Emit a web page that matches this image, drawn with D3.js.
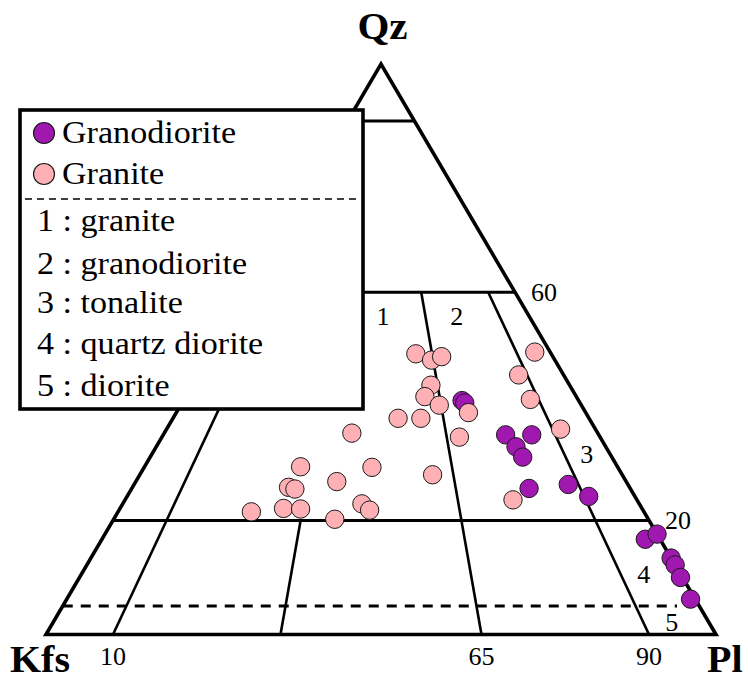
<!DOCTYPE html>
<html>
<head>
<meta charset="utf-8">
<script src="https://cdn.jsdelivr.net/npm/d3@7"></script>
<style>
  html, body { margin: 0; padding: 0; background: #fff; }
  svg { display: block; }
  text { font-family: "Liberation Serif", "Times New Roman", serif; fill: #000; }
</style>
</head>
<body>
<svg id="chart" width="748" height="682"></svg>
<script>
// Modal compositions (vol. %): Q = quartz, A = K-feldspar, P = plagioclase
const graniteQ = [49.2,48.1,48.7,43.7,41.7,40.2,37.9,37.9,38.9,34.6,35.3,29.4,29.3,28.0,26.8,25.8,25.5,22.1,22.0,21.5,22.9,21.8,20.2,49.5,45.5,41.2,36.0,23.6];
const graniteA = [20.2,18.4,16.6,20.7,22.6,21.2,28.5,25.1,17.5,21.0,36.7,47.3,36.7,28.3,43.2,50.9,50.1,53.5,51.0,58.6,41.4,40.8,46.8,2.3,6.7,7.1,5.2,18.5];
const graniteP = [30.6,33.5,34.7,35.6,35.7,38.6,33.6,37.0,43.6,44.4,28.0,23.3,34.0,43.7,30.0,23.3,24.4,24.4,27.0,19.9,35.7,37.4,33.0,48.2,47.8,51.7,58.8,57.9];

const granodioriteQ = [41.0,40.6,35.0,35.0,32.9,31.1,25.6,26.3,24.2,16.7,17.6,13.4,12.2,10.0,6.2];
const granodioriteA = [17.4,17.2,13.9,10.0,13.4,13.3,15.1,8.9,6.9,2.2,0.0,0.0,0.0,0.3,0.7];
const granodioriteP = [41.6,42.2,51.1,55.0,53.7,55.6,59.3,64.8,68.9,81.1,82.4,86.6,87.8,89.7,93.1];

// Series legend and field names
const seriesNames = ["Granodiorite", "Granite"];
const seriesColors = ["#a118b1", "#ffb0b5"];
const fieldNames = ["granite", "granodiorite", "tonalite", "quartz diorite", "diorite"];

// Boundary values: Q levels (%) and P/(A+P) ratios (%)
const qLevels = [90, 60, 20];
const qDashed = 5;
const ratioLines = [[10, 60], [35, 20], [65, 60], [90, 60]]; // [P/(A+P), top Q]
const baseTicks = [10, 65, 90];
const sideTicks = [60, 20];

const svg = d3.select("#chart");

// Cartesian unit coordinates of the triangle: Kfs (0,0), Pl (1,0), Qz (0.5,1)
const xs = d3.scaleLinear().domain([0, 1]).range([46, 716]);
const ys = d3.scaleLinear().domain([0, 1]).range([634.5, 64]);

function proj(q, a, p) {
  const s = q + a + p;
  const Q = q / s, P = p / s;
  return [xs(P + Q / 2), ys(Q)];
}
// point at quartz level q (%) and plagioclase ratio r (%)
function projQR(q, r) {
  const Q = q / 100, R = r / 100;
  return proj(Q, (1 - Q) * (1 - R), (1 - Q) * R);
}

const line = d3.line();
const g = svg.append("g");

// Field boundaries
qLevels.forEach(q => {
  g.append("path").attr("d", line([projQR(q, 0), projQR(q, 100)]))
    .attr("stroke", "#000").attr("stroke-width", 3).attr("fill", "none");
});
g.append("path").attr("d", line([projQR(qDashed, 0), projQR(qDashed, 96.5)]))
  .attr("stroke", "#000").attr("stroke-width", 2.8).attr("fill", "none")
  .attr("stroke-dasharray", "10,8");
ratioLines.forEach(([r, top]) => {
  g.append("path").attr("d", line([projQR(0, r), projQR(top, r)]))
    .attr("stroke", "#000").attr("stroke-width", 2.6).attr("fill", "none");
});

// Triangle outline
g.append("path")
  .attr("d", line([proj(0, 1, 0), proj(0, 0, 1), proj(1, 0, 0)]) + "Z")
  .attr("stroke", "#000").attr("stroke-width", 3.6).attr("fill", "none")
  .attr("stroke-linejoin", "miter");

// Field numbers, placed in unit coordinates
const fieldLabels = [["1", 0.503, 0.5425], ["2", 0.613, 0.5425], ["3", 0.807, 0.3006], ["4", 0.892, 0.0909], ["5", 0.934, 0.0066]];
g.selectAll("text.field").data(fieldLabels).join("text")
  .attr("class", "field")
  .attr("x", d => xs(d[1])).attr("y", d => ys(d[2]))
  .attr("text-anchor", "middle").attr("font-size", 26).text(d => d[0]);

// Ratio ticks along the base
g.selectAll("text.btick").data(baseTicks).join("text")
  .attr("class", "btick")
  .attr("x", d => projQR(0, d)[0]).attr("y", d => projQR(0, d)[1] + 30)
  .attr("text-anchor", "middle").attr("font-size", 26).text(d => d);

// Quartz ticks along the right edge
g.selectAll("text.stick").data(sideTicks).join("text")
  .attr("class", "stick")
  .attr("x", d => projQR(d, 100)[0] + 16).attr("y", d => projQR(d, 100)[1] + 9)
  .attr("font-size", 26).text(d => d);

// Data points
const series = [
  {name: seriesNames[0], color: seriesColors[0], Q: granodioriteQ, A: granodioriteA, P: granodioriteP},
  {name: seriesNames[1], color: seriesColors[1], Q: graniteQ, A: graniteA, P: graniteP}
];
series.forEach(s => {
  const pts = s.Q.map((q, i) => proj(q, s.A[i], s.P[i]));
  g.append("g").selectAll("circle").data(pts).join("circle")
    .attr("cx", d => d[0]).attr("cy", d => d[1]).attr("r", 9.2)
    .attr("fill", s.color).attr("stroke", "#1a1a1a").attr("stroke-width", 1);
});

// Text slightly widened horizontally
function wideText(parent, x, y, txt, size, bold, anchor, sx) {
  return parent.append("text")
    .attr("transform", `translate(${x},${y}) scale(${sx || 1.1},1)`)
    .attr("text-anchor", anchor || "start")
    .attr("font-size", size).attr("font-weight", bold ? "bold" : "normal")
    .text(txt);
}
// Apex titles
wideText(svg, 382.5, 39, "Qz", 38, true, "middle", 1.08);
wideText(svg, 10, 672, "Kfs", 37, true, "start", 1.08);
wideText(svg, 707, 672, "Pl", 37, true, "start", 1.08);

// Legend
const lg = svg.append("g");
lg.append("rect").attr("x", 20).attr("y", 110).attr("width", 343).attr("height", 299)
  .attr("fill", "#fff").attr("stroke", "#000").attr("stroke-width", 3.6);
const rowY = [133, 174];
series.forEach((s, i) => {
  lg.append("circle").attr("cx", 44).attr("cy", rowY[i]).attr("r", 10.5)
    .attr("fill", s.color).attr("stroke", "#1a1a1a").attr("stroke-width", 1.2);
  wideText(lg, 62, rowY[i] + 10, s.name, 31, false);
});
lg.append("line").attr("x1", 25).attr("x2", 356).attr("y1", 199).attr("y2", 199)
  .attr("stroke", "#000").attr("stroke-width", 1.5).attr("stroke-dasharray", "7,5");
const fieldY = [231, 274, 313, 354, 396];
fieldNames.forEach((n, i) => {
  wideText(lg, 37, fieldY[i], `${i + 1} : ${n}`, 31, false);
});
</script>
</body>
</html>
